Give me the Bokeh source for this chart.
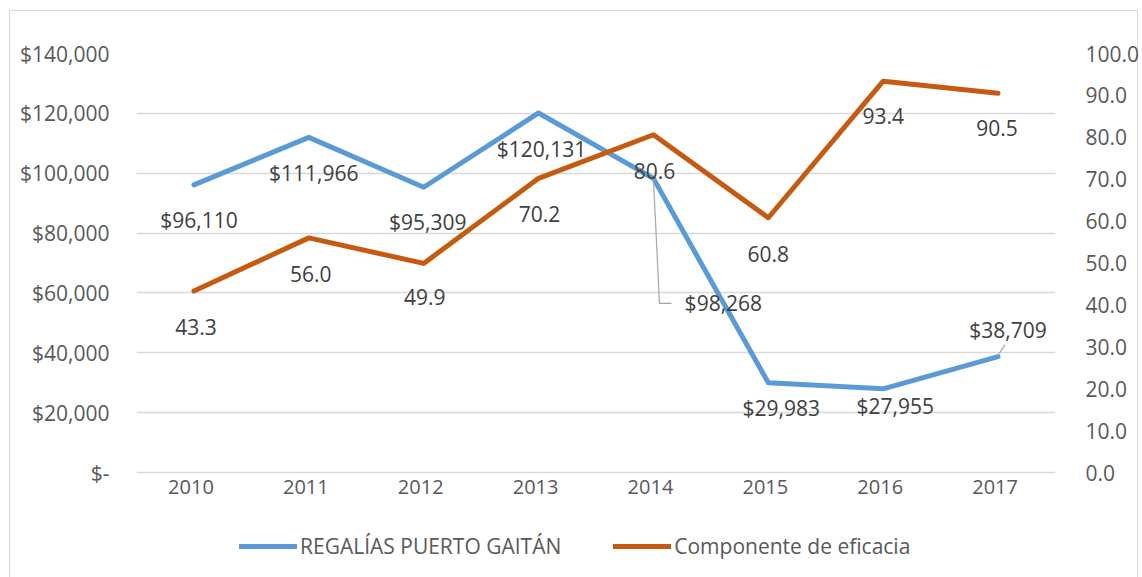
from bokeh.plotting import figure
from bokeh.models import (Range1d, LinearAxis, FixedTicker, NumeralTickFormatter,
                          Legend, LegendItem, ColumnDataSource)
from bokeh.core.properties import value
from bokeh.embed import file_html
from bokeh.resources import INLINE

# ---- data ----
years = ["2010", "2011", "2012", "2013", "2014", "2015", "2016", "2017"]
regalias = [96110, 111966, 95309, 120131, 98268, 29983, 27955, 38709]
eficacia = [43.3, 56.0, 49.9, 70.2, 80.6, 60.8, 93.4, 90.5]
left_ticks = [0, 20000, 40000, 60000, 80000, 100000, 120000, 140000]
right_ticks = [0, 10, 20, 30, 40, 50, 60, 70, 80, 90, 100]

# ---- styling / geometry ----
FONT = "Open Sans"
BLUE = "#5B9BD5"
ORANGE = "#C55A11"
GRID = "#D9D9D9"
LABEL_C = "#404040"
AXIS_C = "#595959"

W, H = 1142, 577
ML, MR, MT = 136, 86, 53
ZERO_PX = 419                      # distance from frame top to the zero line
FRAME_W = W - ML - MR
BELOW = H - MT - ZERO_PX           # frame space kept under the zero line
Y1MAX = 140000
Y2MAX = 100

px_x = FRAME_W / len(years)
px_y1 = ZERO_PX / Y1MAX
px_y2 = ZERO_PX / Y2MAX

# label offsets in pixels (dx right, dy down)
reg_dx = [5, 5, 4, 3, 70, 13, 12, 10]
reg_dy = [35, 36, 35, 36, 125, 25, 17, -27]
efi_dx = [2, 2, 1, 1, 1, 0, 0, -1]
efi_dy = [36, 36, 34, 36, 36, 36, 35, 35]
year_dx = -3
year_dy = 14

xs = list(range(len(years)))

line_bg = "linear-gradient(#D9D9D9, #D9D9D9)"
p = figure(width=W, height=H, output_backend="svg", toolbar_location=None,
           x_range=Range1d(-0.5, len(years) - 0.5),
           y_range=Range1d(-BELOW / px_y1, Y1MAX),
           x_axis_location=None,
           min_border_left=ML, min_border_right=MR, min_border_top=MT,
           min_border_bottom=0)
p.styles = {"background": (f"{line_bg} 9px 10px / 1px 100% no-repeat, "
                           f"{line_bg} 9px 10px / 1129px 1px no-repeat, "
                           f"{line_bg} 1137px 10px / 1px 100% no-repeat, white")}
p.extra_y_ranges = {"pct": Range1d(-BELOW / px_y2, Y2MAX)}
p.outline_line_color = None
p.background_fill_color = None
p.border_fill_color = None

# left axis
ya = p.yaxis[0]
ya.ticker = FixedTicker(ticks=left_ticks)
ya.major_label_overrides = {t: ("$-" if t == 0 else "${:,}".format(t)) for t in left_ticks}
ya.axis_line_color = None
ya.major_tick_line_color = None
ya.minor_tick_line_color = None
ya.major_label_standoff = 21
ya.major_label_text_font = FONT
ya.major_label_text_font_size = "21px"
ya.major_label_text_color = AXIS_C

# right axis
ra = LinearAxis(y_range_name="pct", ticker=FixedTicker(ticks=right_ticks),
                formatter=NumeralTickFormatter(format="0.0"))
ra.axis_line_color = None
ra.major_tick_line_color = None
ra.minor_tick_line_color = None
ra.major_label_standoff = 24
ra.major_label_text_font = FONT
ra.major_label_text_font_size = "21px"
ra.major_label_text_color = AXIS_C
p.add_layout(ra, "right")

p.xgrid.grid_line_color = None
p.ygrid.grid_line_color = GRID
p.ygrid.grid_line_width = 1.5
p.ygrid.ticker = FixedTicker(ticks=left_ticks)

# category labels under the zero line
year_src = ColumnDataSource(dict(x=[i + year_dx / px_x for i in xs],
                                 y=[-year_dy / px_y1] * len(xs), t=years))
p.text(x="x", y="y", text="t", source=year_src, text_align="center",
       text_baseline="middle", text_font=value(FONT), text_font_size="20px",
       text_color=AXIS_C)

r1 = p.line(xs, regalias, line_color=BLUE, line_width=5, line_join="round", line_cap="round")
r2 = p.line(xs, eficacia, y_range_name="pct", line_color=ORANGE, line_width=5,
            line_join="round", line_cap="round")

# leader lines (from point toward displaced labels)
l1x = [xs[4], xs[4] + 6 / px_x, xs[4] + 18 / px_x]
l1y = [regalias[4], regalias[4] - 125 / px_y1, regalias[4] - 125 / px_y1]
p.line(l1x, l1y, line_color="#A6A6A6", line_width=1.2)
l2x = [xs[7] + 1 / px_x, xs[7] + 7 / px_x]
l2y = [regalias[7] + 3 / px_y1, regalias[7] + 12 / px_y1]
p.line(l2x, l2y, line_color="#A6A6A6", line_width=1.2)

reg_src = ColumnDataSource(dict(
    x=[xs[i] + reg_dx[i] / px_x for i in xs],
    y=[regalias[i] - reg_dy[i] / px_y1 for i in xs],
    t=["${:,}".format(v) for v in regalias]))
p.text(x="x", y="y", text="t", source=reg_src, text_align="center",
       text_baseline="middle", text_font=value(FONT), text_font_size="21px",
       text_color=LABEL_C)

efi_src = ColumnDataSource(dict(
    x=[xs[i] + efi_dx[i] / px_x for i in xs],
    y=[eficacia[i] - efi_dy[i] / px_y2 for i in xs],
    t=["{:.1f}".format(v) for v in eficacia]))
p.text(x="x", y="y", text="t", source=efi_src, y_range_name="pct", text_align="center",
       text_baseline="middle", text_font=value(FONT), text_font_size="21px",
       text_color=LABEL_C)

legend = Legend(items=[LegendItem(label="REGALÍAS PUERTO GAITÁN", renderers=[r1]),
                       LegendItem(label="Componente de eficacia", renderers=[r2])],
                orientation="horizontal", location=(103, 17))
legend.border_line_color = None
legend.background_fill_alpha = 0
legend.glyph_width = 58
legend.glyph_height = 20
legend.label_standoff = 3
legend.spacing = 52
legend.padding = 6
legend.margin = 0
legend.label_text_font = FONT
legend.label_text_font_size = "21px"
legend.label_text_color = AXIS_C
p.add_layout(legend, "center")

open("out.html", "w").write(file_html(p, INLINE))
